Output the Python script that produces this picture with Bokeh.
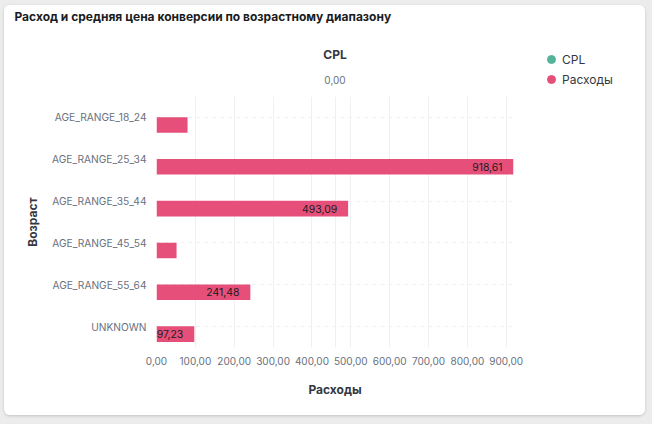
from bokeh.plotting import figure
from bokeh.models import (FactorRange, Range1d, LinearAxis, FixedTicker, CustomJSTickFormatter,
                          ColumnDataSource, Grid, Legend, LegendItem, Column, Row, Label)
from bokeh.transform import dodge
from bokeh.core.properties import value
from bokeh.embed import file_html
from bokeh.resources import INLINE

# ---- data ----
categories = ["AGE_RANGE_18_24", "AGE_RANGE_25_34", "AGE_RANGE_35_44",
              "AGE_RANGE_45_54", "AGE_RANGE_55_64", "UNKNOWN"]
spend = [79.9, 918.61, 493.09, 51.6, 241.48, 97.23]
cpl = [0.0, 0.0, 0.0, 0.0, 0.0, 0.0]
x_ticks = [0, 100, 200, 300, 400, 500, 600, 700, 800, 900]
cpl_ticks = [0]
title_text = "Расход и средняя цена конверсии по возрастному диапазону"
series_names = ["CPL", "Расходы"]

FONT = "Inter"
PINK = "#e54f79"
GREEN = "#54b399"
TICK_C = "#69707d"
LABEL_C = "#343741"

TITLE_H = 22

labels = [f"{v:.2f}".replace(".", ",") if v > 90 else "" for v in spend]
src = ColumnDataSource(dict(age=categories, spend=spend, cpl=cpl, lbl=labels))

# ---- title strip ----
tf = figure(width=641, height=TITLE_H, output_backend="svg", toolbar_location=None,
            title=None, x_range=Range1d(0, 641), y_range=Range1d(0, TITLE_H),
            min_border=0, outline_line_color=None, border_fill_color="white")
tf.frame_align = False
tf.axis.visible = False
tf.grid.visible = False
tf.add_layout(Label(x=10, y=TITLE_H - 11, text=title_text, text_baseline="middle",
                    text_font=FONT, text_font_size="12px", text_font_style="bold",
                    text_color="#1a1c21"))

# ---- main chart ----
p = figure(width=530, height=410 - TITLE_H, output_backend="svg", toolbar_location=None,
           title=None,
           y_range=FactorRange(factors=categories[::-1], range_padding=0),
           x_range=Range1d(0, max(spend)),
           min_border_left=152, min_border_right=21, min_border_top=91 - TITLE_H, min_border_bottom=68,
           outline_line_color=None, background_fill_color="white", border_fill_color="white")
p.frame_align = False
p.extra_x_ranges = {"cpl": Range1d(-1, 1)}

p.hbar(y=dodge("age", 0.18, range=p.y_range), left=0, right="cpl", height=0.373,
       source=src, fill_color=GREEN, line_color=None)
p.hbar(y=dodge("age", -0.18, range=p.y_range), left=0, right="spend", height=0.373,
       source=src, fill_color=PINK, line_color=None)
p.text(x="spend", y=dodge("age", -0.18, range=p.y_range), text="lbl", source=src,
       x_offset=-11, text_align="right", text_baseline="middle",
       text_font=value(FONT), text_font_size="10.4px", text_color="#1a1c21")

xa = p.xaxis[0]
xa.ticker = FixedTicker(ticks=x_ticks)
xa.formatter = CustomJSTickFormatter(code="return tick.toFixed(2).replace('.', ',');")
xa.axis_label = "Расходы"

top_ax = LinearAxis(x_range_name="cpl", ticker=FixedTicker(ticks=cpl_ticks),
                    formatter=CustomJSTickFormatter(code="return tick.toFixed(2).replace('.', ',');"),
                    axis_label="CPL")
p.add_layout(top_ax, "above")

ya = p.yaxis[0]
ya.axis_label = "Возраст"

for ax in [xa, top_ax, ya]:
    ax.axis_line_color = None
    ax.major_tick_line_color = None
    ax.minor_tick_line_color = None
    ax.major_tick_out = 0
    ax.major_tick_in = 0
    ax.minor_tick_out = 0
    ax.major_label_text_font = FONT
    ax.major_label_text_font_size = "10px"
    ax.major_label_text_color = TICK_C
    ax.axis_label_text_font = FONT
    ax.axis_label_text_font_size = "12px"
    ax.axis_label_text_font_style = "bold"
    ax.axis_label_text_color = LABEL_C
ya.major_label_text_font_size = "10.2px"
xa.major_label_standoff = 9
xa.axis_label_standoff = 14
top_ax.major_label_standoff = 13
top_ax.axis_label_standoff = 11
ya.major_label_standoff = 10
ya.axis_label_standoff = 9

p.xgrid.grid_line_color = "#eef0f3"
p.ygrid.grid_line_color = "#eef0f3"
p.ygrid.grid_line_dash = "4 4"
p.add_layout(Grid(dimension=0, ticker=FixedTicker(ticks=cpl_ticks), x_range_name="cpl",
                  grid_line_color="#eef0f3"))

# ---- legend figure ----
lf = figure(width=111, height=410 - TITLE_H, output_backend="svg", toolbar_location=None,
            title=None, x_range=Range1d(0, 1), y_range=Range1d(0, 1),
            min_border_left=7, min_border_top=44 - TITLE_H, min_border_right=0, min_border_bottom=0,
            outline_line_color=None, border_fill_color="white")
lf.frame_align = False
lf.axis.visible = False
lf.grid.visible = False
r_cpl = lf.scatter(x=[-5], y=[-5], marker="circle", size=8, color=GREEN)
r_sp = lf.scatter(x=[-5], y=[-5], marker="circle", size=8, color=PINK)
leg = Legend(items=[LegendItem(label=series_names[0], renderers=[r_cpl]),
                    LegendItem(label=series_names[1], renderers=[r_sp])],
             location="top_left", padding=0, margin=0, spacing=0,
             glyph_width=20, glyph_height=20, label_height=20, label_standoff=1,
             label_text_font=FONT, label_text_font_size="12px", label_text_color=LABEL_C,
             border_line_color=None, background_fill_alpha=0)
lf.add_layout(leg, "center")

card = Column(children=[tf, Row(children=[p, lf])], width=641, height=410,
              styles={"border-radius": "6px", "box-shadow": "0 1px 3px rgba(0,0,0,0.18)",
                      "overflow": "hidden", "background-color": "white"})
root = Column(children=[card], width=652, height=424,
              styles={"background-color": "#ececec", "padding": "5px 0 0 4px", "box-sizing": "border-box"})

open("out.html", "w").write(file_html(root, INLINE))
